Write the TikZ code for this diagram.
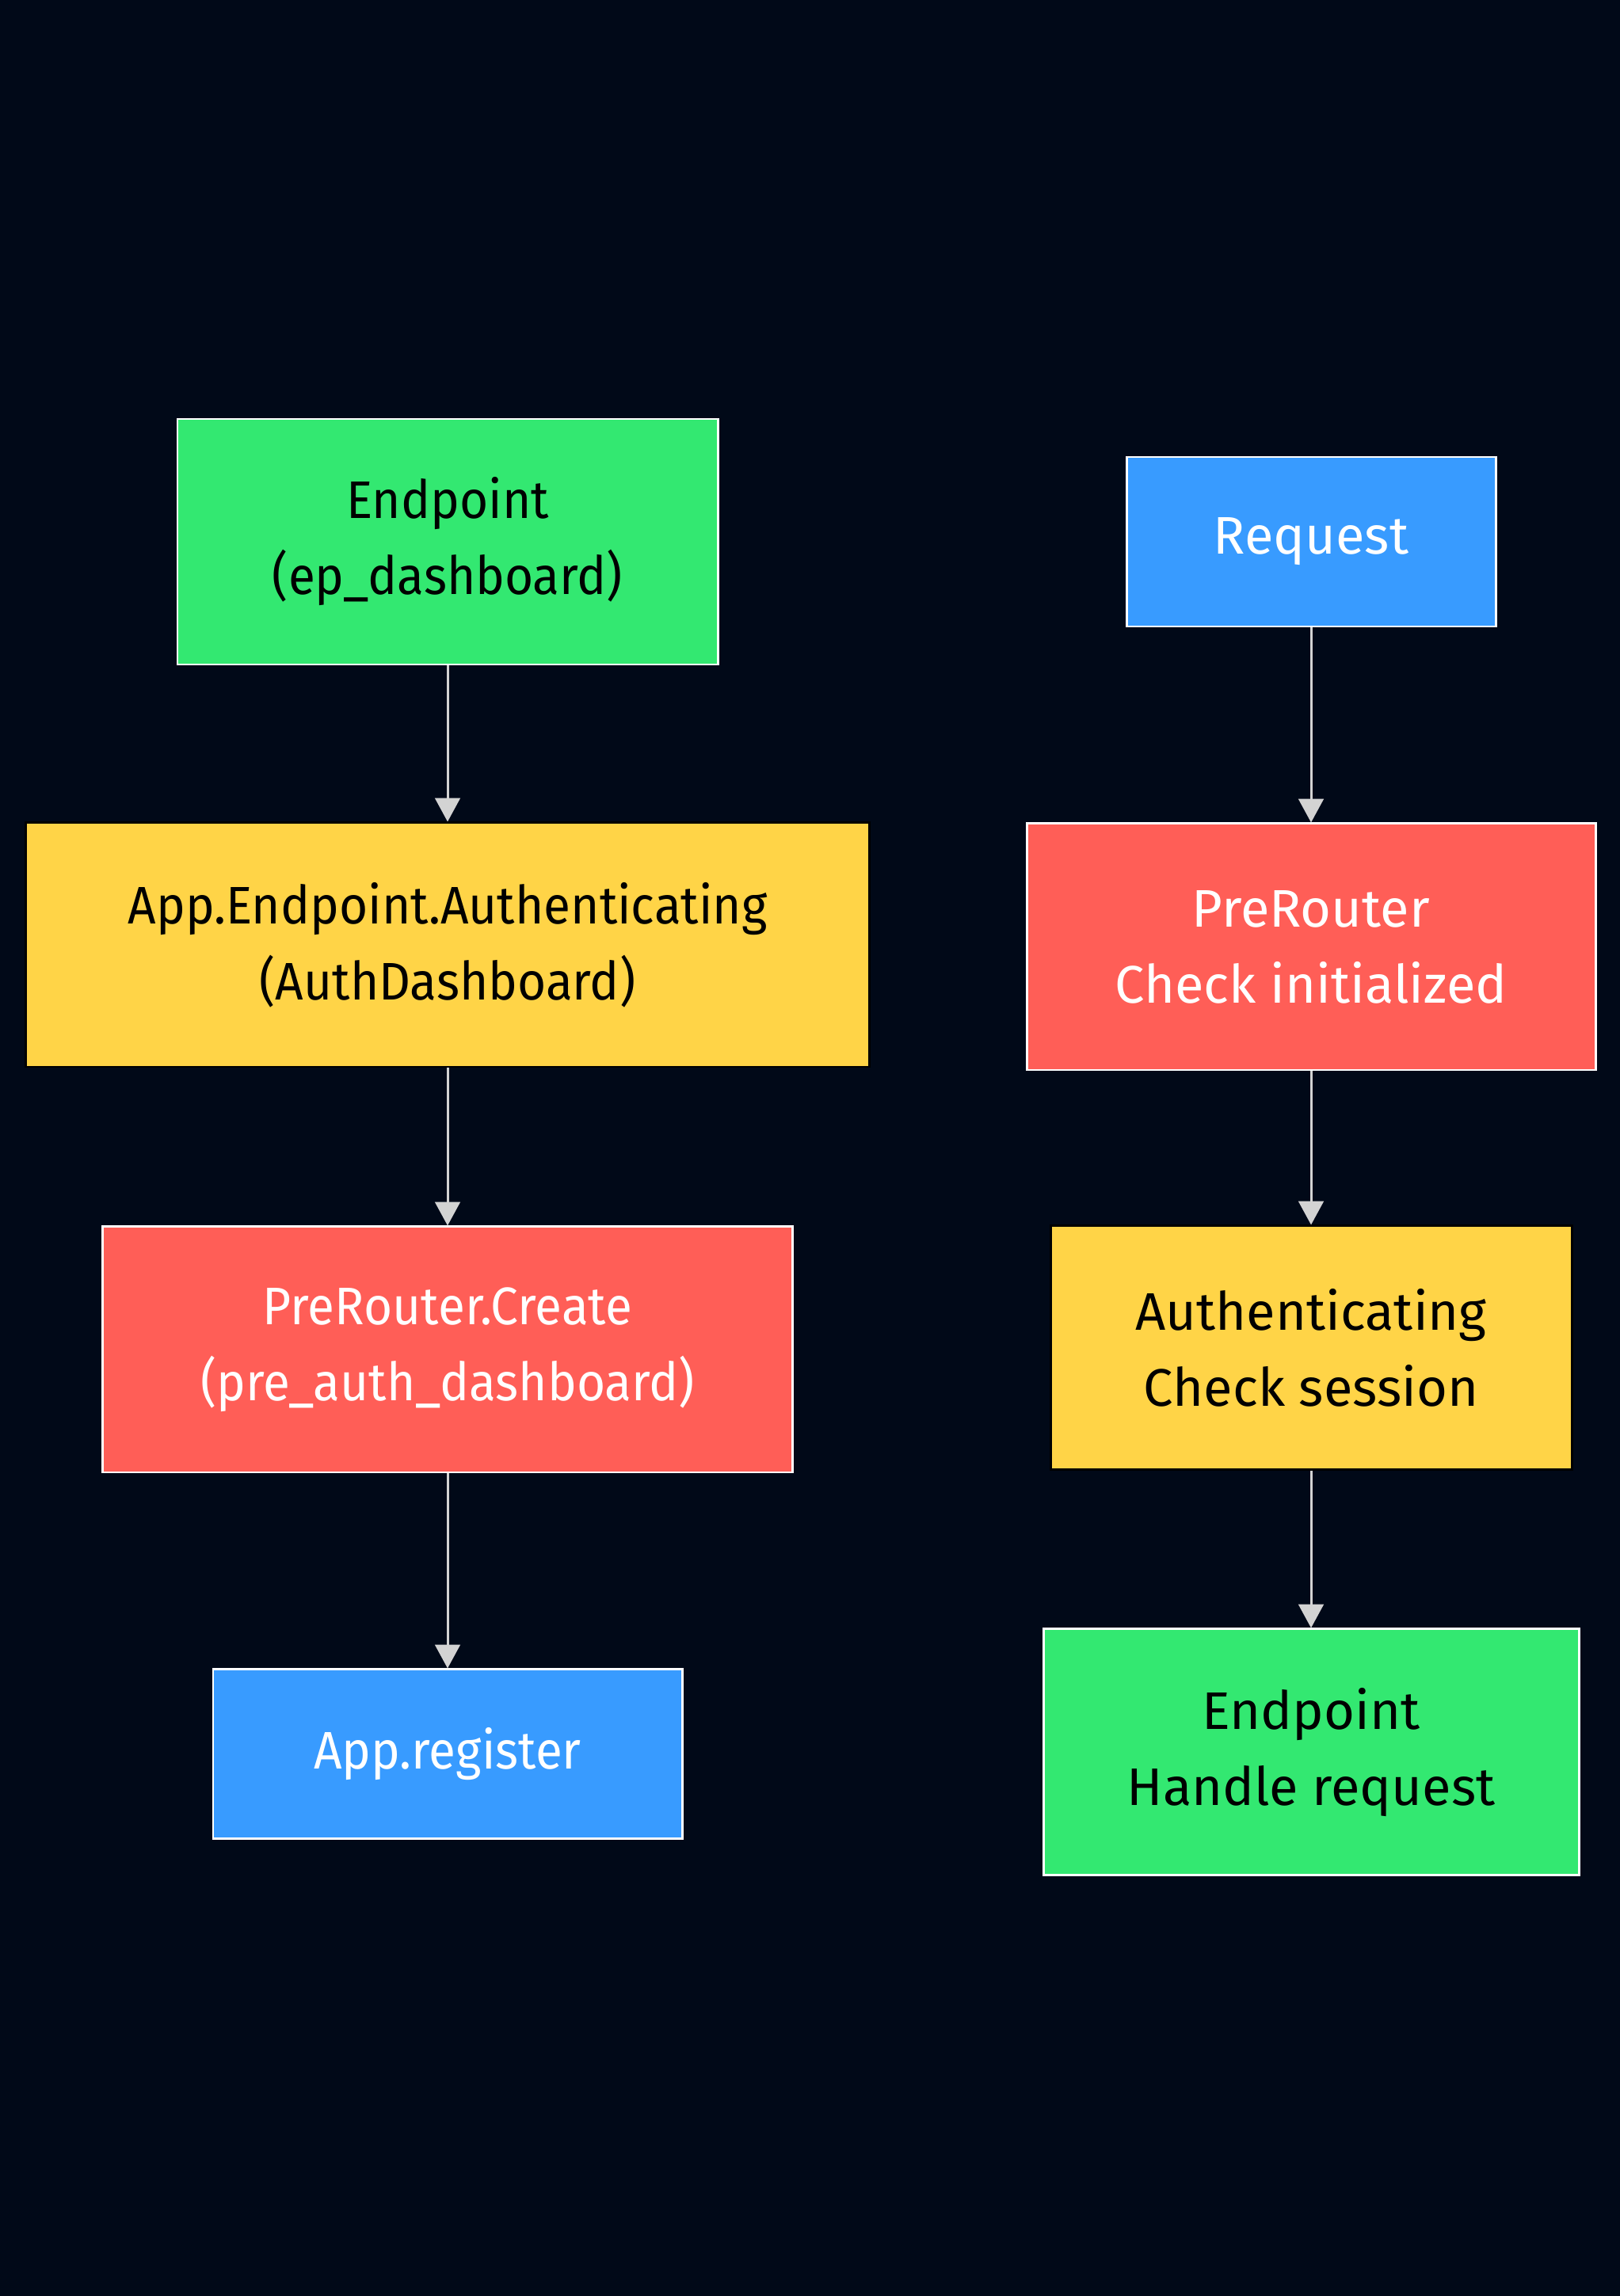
\documentclass[tikz,border=0pt]{standalone}
\usepackage{fontspec}
\setmainfont{Fira Sans}
\newfontfamily\narrowfont[FakeStretch=0.93]{Fira Sans}
\usetikzlibrary{positioning,arrows.meta}
\definecolor{bgnavy}{RGB}{1,9,24}
\definecolor{boxgreen}{RGB}{51,232,113}
\definecolor{boxyellow}{RGB}{255,212,71}
\definecolor{boxred}{RGB}{255,94,87}
\definecolor{boxblue}{RGB}{56,155,255}
\definecolor{linkgray}{RGB}{211,211,211}
\tikzset{
  card/.style={rectangle,line width=0.85pt,inner sep=2pt},
  greenbox/.style={card,fill=boxgreen,draw=white,text=black},
  yellowbox/.style={card,fill=boxyellow,draw=black,text=black},
  redbox/.style={card,fill=boxred,draw=white,text=white},
  bluebox/.style={card,fill=boxblue,draw=white,text=white},
  narrowtxt/.style={font=\narrowfont\fontsize{19}{27.3}\selectfont}
}

\begin{document}
\begin{tikzpicture}[->,>={Triangle[width=9pt,length=8.5pt]},line width=0.85pt,align=center,
    font=\fontsize{19}{27.3}\selectfont]
  \fill[bgnavy] (0,0) rectangle (20.45,-28.99);
  \useasboundingbox (0,0) rectangle (20.45,-28.99);

  % left column
  \node[greenbox,narrowtxt,minimum width=6.82cm,minimum height=3.1cm] (epdash) at (5.65,-6.84)
    {Endpoint\\(ep\_dashboard)};
  \node[yellowbox,narrowtxt,minimum width=10.65cm,minimum height=3.08cm,below=1.97cm of epdash]
    (authdash) {App.Endpoint.Authenticating\\(AuthDashboard)};
  \node[redbox,narrowtxt,minimum width=8.71cm,minimum height=3.1cm,below=1.99cm of authdash]
    (precreate) {PreRouter.Create\\(pre\_auth\_dashboard)};
  \node[bluebox,narrowtxt,minimum width=5.92cm,minimum height=2.14cm,below=2.46cm of precreate]
    (appreg) {App.register};

  % right column
  \node[bluebox,minimum width=4.66cm,minimum height=2.14cm] (request) at (16.55,-6.84) {Request};
  \node[redbox,minimum width=7.18cm,minimum height=3.11cm,below=2.46cm of request]
    (chkinit) {PreRouter\\Check initialized};
  \node[yellowbox,minimum width=6.58cm,minimum height=3.08cm,below=1.94cm of chkinit]
    (chksess) {Authenticating\\Check session};
  \node[greenbox,minimum width=6.76cm,minimum height=3.11cm,below=1.98cm of chksess]
    (handle) {Endpoint\\Handle request};

  \path[draw=linkgray,fill=linkgray]
    (epdash) edge (authdash)
    (authdash) edge (precreate)
    (precreate) edge (appreg)
    (request) edge (chkinit)
    (chkinit) edge (chksess)
    (chksess) edge (handle);
\end{tikzpicture}
\end{document}
